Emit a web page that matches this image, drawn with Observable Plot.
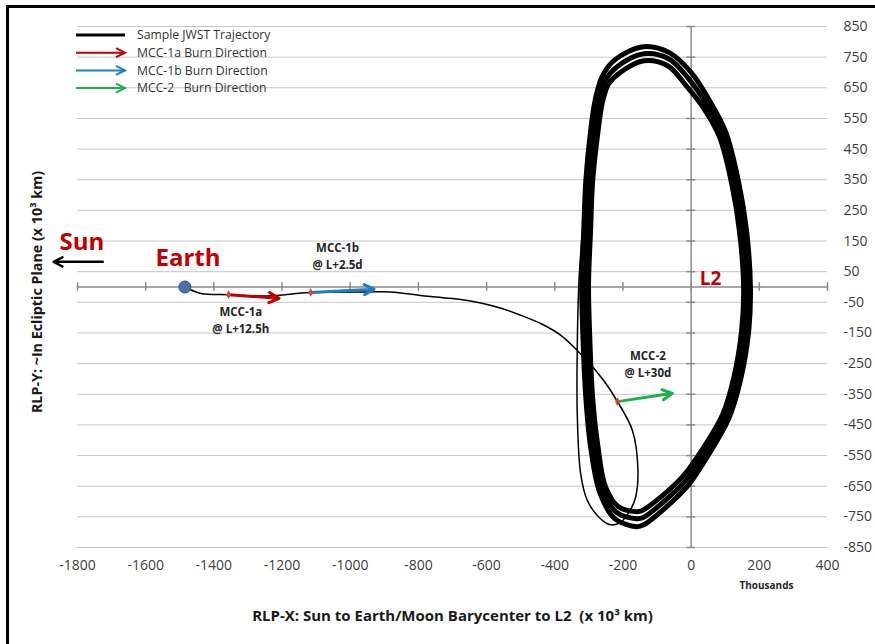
<!DOCTYPE html>
<html><head><meta charset="utf-8">
<script src="https://cdn.jsdelivr.net/npm/d3@7"></script>
<script src="https://cdn.jsdelivr.net/npm/@observablehq/plot@0.6"></script>
<style>
body{margin:0;background:#fff;overflow:hidden;}
#wrap{position:relative;width:875px;height:644px;overflow:hidden;font-family:"Open Sans",sans-serif;background:#fff;}
#wrap svg.plot{position:absolute;left:0;top:0;}
#border{position:absolute;left:6px;top:5px;width:900px;height:700px;border:3px solid #000;box-sizing:border-box;pointer-events:none;}
#legend{position:absolute;left:0;top:0;}
</style></head><body><div id="wrap"></div>
<script>
// ---- tick values ----
const xTicks = [-1800,-1600,-1400,-1200,-1000,-800,-600,-400,-200,0,200,400];
const yTicks = [-850,-750,-650,-550,-450,-350,-250,-150,-50,50,150,250,350,450,550,650,750,850];

// ---- trajectory from Earth through the transfer to the first (wide) halo revolution, x10^3 km ----
const transferPath = [
  [-1485,0],[-1438,-21],[-1357,-25],[-1243,-29],[-1116,-18],[-950,-16],[-881,-16],[-764,-31],
  [-680,-40],[-617,-52],[-555,-70],[-500,-92],[-440,-120],[-383,-157],[-314,-230],[-256,-306],[-216,-374],
  [-172,-469],[-156,-600],[-163,-687],[-177,-725],[-207,-768],[-236,-776],[-265,-757],[-304,-698],
  [-324,-610],[-334,-415],[-334,-197],[-329,20],[-318,200],[-305,420],[-290,560]
];

// ---- halo orbit around L2 (band of many revolutions: outer, middle, inner) ----
const haloOuter = [
  [-139,784],[-63,764],[1,699],[51,614],[101,507],[139,344],[163,180],[174,-3],[169,-143],[145,-303],
  [110,-430],[51,-547],[-7,-645],[-75,-720],[-139,-776],[-160,-782],[-224,-756],[-268,-671],[-295,-521],
  [-309,-360],[-318,-143],[-321,10],[-315,183],[-309,346],[-295,509],[-280,618],[-260,689],[-224,741]
];
const haloMiddle = [
  [-139,761],[-66,745],[-7,679],[43,600],[92,500],[129,340],[152,180],[164,-3],[158,-143],[135,-300],
  [101,-423],[43,-538],[-16,-632],[-84,-704],[-142,-753],[-160,-756],[-218,-736],[-260,-662],[-284,-518],
  [-299,-360],[-308,-143],[-311,10],[-305,183],[-299,343],[-284,506],[-270,611],[-251,676],[-218,718]
];
const haloInner = [
  [-139,738],[-69,722],[-16,659],[34,588],[82,493],[119,337],[142,180],[154,-3],[148,-143],[125,-296],
  [92,-417],[34,-528],[-25,-619],[-92,-688],[-145,-730],[-160,-733],[-213,-717],[-251,-652],[-274,-515],
  [-289,-360],[-298,-143],[-301,10],[-295,183],[-289,343],[-274,500],[-260,604],[-242,663],[-213,696]
];

// ---- Earth ----
const earth = [[-1485, 0]];

// ---- burns (start and end of direction arrows) ----
const burnNames  = ["MCC-1a", "MCC-1b", "MCC-2"];
const burnStartX = [-1357, -1116, -216];
const burnStartY = [-25, -18, -374];
const burnEndX   = [-1209, -930, -55];
const burnEndY   = [-37, -7, -347];
const burnColors = ["#c00000", "#1f7cc8", "#1eb04c"];
const burnNotes  = ["@ L+12.5h", "@ L+2.5d", "@ L+30d"];
const burnLabelX = [-1321, -1037, -127];
const burnLabelY = [-105, 105, -248];

// ---- Sun direction arrow ----
const sunArrow = [{x1: -1726, y1: 82, x2: -1870, y2: 82}];

// ---- big red annotations ----
const bigLabels = ["Sun", "Earth", "L2"];
const bigLabelX = [-1787, -1476, 57];
const bigLabelY = [147, 92, 28];
const bigLabelSize = [24, 24, 19];

// ---- legend ----
const legendLabels = ["Sample JWST Trajectory", "MCC-1a Burn Direction", "MCC-1b Burn Direction", "MCC-2   Burn Direction"];
const legendColors = ["#000000", "#c00000", "#1f7cc8", "#1eb04c"];

// ---- axis titles ----
const xTitle = "RLP-X: Sun to Earth/Moon Barycenter to L2  (x 10³ km)";
const yTitle = "RLP-Y: ~In Ecliptic Plane (x 10³ km)";
const xUnit = "Thousands";

const burns = burnNames.map((n, i) => ({name: n, note: burnNotes[i], x1: burnStartX[i], y1: burnStartY[i], x2: burnEndX[i], y2: burnEndY[i], color: burnColors[i], lx: burnLabelX[i], ly: burnLabelY[i]}));
const bigs = bigLabels.map((t, i) => ({t, x: bigLabelX[i], y: bigLabelY[i], s: bigLabelSize[i]}));

const gridColor = "#c6c6c6", axisColor = "#8a8a8a", red = "#c00000";

const chart = Plot.plot({
  width: 875, height: 644,
  marginLeft: 77, marginRight: 48, marginTop: 26, marginBottom: 97,
  style: {fontFamily: "'Open Sans', sans-serif", fontSize: "14px", background: "transparent", color: "#404040", overflow: "visible"},
  x: {domain: [-1800, 400]},
  y: {domain: [-850, 850]},
  marks: [
    Plot.ruleY(yTicks, {x1: -1800, x2: 400, stroke: gridColor, strokeWidth: 1}),
    Plot.ruleY([0], {x1: -1800, x2: 400, stroke: axisColor, strokeWidth: 1.5}),
    Plot.ruleX(xTicks, {y1: -14, y2: 14, stroke: axisColor, strokeWidth: 1.5}),
    Plot.ruleX([0], {y1: -850, y2: 850, stroke: axisColor, strokeWidth: 1.5}),
    Plot.ruleY(yTicks, {x1: -13, x2: 13, stroke: axisColor, strokeWidth: 1.5}),
    Plot.axisX(xTicks, {anchor: "bottom", tickSize: 0, tickPadding: 13, label: null, tickFormat: d => String(d), fontSize: 14}),
    Plot.axisY(yTicks, {anchor: "right", tickSize: 0, tickPadding: 16, label: null, tickFormat: d => String(d), fontSize: 14}),
    // halo band
    Plot.line(haloOuter, {curve: "catmull-rom-closed", stroke: "#000", strokeWidth: 5}),
    Plot.line(haloMiddle, {curve: "catmull-rom-closed", stroke: "#000", strokeWidth: 5}),
    Plot.line(haloInner, {curve: "catmull-rom-closed", stroke: "#000", strokeWidth: 5}),
    // transfer trajectory
    Plot.line(transferPath, {curve: "catmull-rom", stroke: "#000", strokeWidth: 1.5}),
    // burn arrows
    Plot.arrow(burns, {x1: "x1", y1: "y1", x2: "x2", y2: "y2", stroke: "color", strokeWidth: 3, headLength: 5.5, headAngle: 55}),
    Plot.dot(burns, {x: "x1", y: "y1", symbol: "diamond", r: 2.6, fill: "#e23b3b"}),
    Plot.text(burns, {x: "lx", y: "ly", text: d => d.name + "\n" + d.note, lineHeight: 1.5, fontSize: 11.5, fontWeight: "bold", fill: "#262626"}),
    // Sun arrow
    Plot.arrow(sunArrow, {x1: "x1", y1: "y1", x2: "x2", y2: "y2", stroke: "#000", strokeWidth: 2.5, headLength: 6, headAngle: 55}),
    // Earth
    Plot.dot(earth, {r: 6, fill: "#4a70ad", stroke: "#2f4f85", strokeWidth: 1}),
    // Big labels
    Plot.text(bigs, {x: "x", y: "y", text: "t", fontSize: d => d.s, fontWeight: "bold", fill: red}),
    // axis titles
    Plot.text([xTitle], {frameAnchor: "bottom", dx: 0, dy: 73, fontSize: 15, fontWeight: "bold", fill: "#1a1a1a"}),
    Plot.text([yTitle], {frameAnchor: "left", textAnchor: "middle", rotate: -90, dx: -40, dy: 5, fontSize: 14.3, fontWeight: "bold", fill: "#1a1a1a"}),
    Plot.text([xUnit], {frameAnchor: "bottom-right", dx: -34, dy: 41, fontSize: 10, fontWeight: "bold", fill: "#262626"})
  ]
});
chart.classList.add("plot");
const wrap = document.getElementById("wrap");
wrap.appendChild(chart);

// legend overlay
const leg = d3.select(wrap).append("svg").attr("id", "legend").attr("width", 320).attr("height", 110);
legendLabels.forEach((label, i) => {
  const y = 35 + i * 17.7;
  const c = legendColors[i];
  if (i === 0) {
    leg.append("line").attr("x1", 76).attr("x2", 125).attr("y1", y).attr("y2", y).attr("stroke", c).attr("stroke-width", 3);
  } else {
    leg.append("line").attr("x1", 76).attr("x2", 124).attr("y1", y).attr("y2", y).attr("stroke", c).attr("stroke-width", 2);
    leg.append("path").attr("d", `M${116},${y - 4.5}L${125},${y}L${116},${y + 4.5}`).attr("fill", "none").attr("stroke", c).attr("stroke-width", 2);
  }
  leg.append("text").attr("x", 137).attr("y", y).attr("dy", "0.35em").attr("font-size", 12.2)
    .attr("fill", "#333").attr("font-family", "'Open Sans', sans-serif").style("white-space", "pre").text(label);
});

const border = document.createElement("div");
border.id = "border";
wrap.appendChild(border);
</script></body></html>
